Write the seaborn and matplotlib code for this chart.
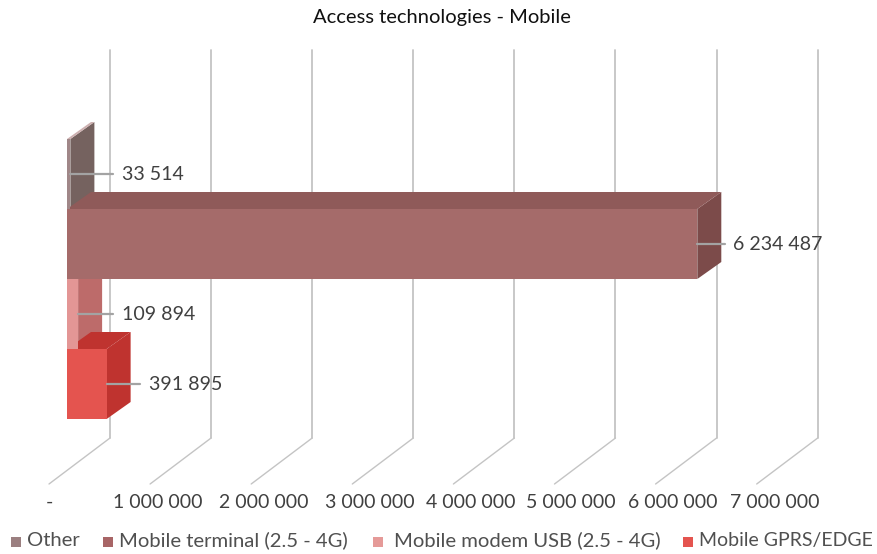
import matplotlib
matplotlib.use("Agg")
import matplotlib.pyplot as plt
from matplotlib.patches import Polygon, Rectangle
import pandas as pd
import seaborn as sns

# Subscriptions per access technology
categories = ["Other", "Mobile terminal (2.5 - 4G)", "Mobile modem USB (2.5 - 4G)", "Mobile GPRS/EDGE"]
values = [33514, 6234487, 109894, 391895]
value_labels = ["33 514", "6 234 487", "109 894", "391 895"]
tick_values = [0, 1000000, 2000000, 3000000, 4000000, 5000000, 6000000, 7000000]
tick_labels = ["-", "1 000 000", "2 000 000", "3 000 000", "4 000 000", "5 000 000", "6 000 000", "7 000 000"]

# Face colours of each extruded bar
front_colors = ["#a08788", "#a56b6a", "#e39695", "#e4544f"]
side_colors = ["#75625f", "#7c4b4a", "#bd6b6a", "#bf332f"]
top_colors = ["#cdb0b0", "#8f5a59", "#c97d7c", "#bf332f"]
legend_colors = ["#9b7f80", "#a86566", "#e59a98", "#e4544f"]

# Canvas layout, in pixels
W, H = 877, 554
PX_PER_UNIT = 101.1 / 1e6
X0_PX, Y0_PX, BAR_PX = 67, 139, 70
BAR_DX, BAR_DY = 24, -17
FLOOR_FRONT_DX, FLOOR_BACK_DX = -18, 43
FLOOR_FRONT_Y, FLOOR_BACK_Y, WALL_TOP_Y = 484, 438, 50
LABEL_CENTERS = [49, 158, 264, 370, 471, 571, 673, 775]
LEADER_END = [113, 725, 113, 140]
LABEL_LEFT = [122, 733, 122, 149]
LEGEND_SWATCH_X = [11, 103, 373, 683]
LEGEND_TEXT_X = [27, 119, 394, 699]
LEGEND_FONT = [14.6, 14.6, 14.6, 14.0]
LEGEND_Y, LEGEND_BASELINE, SWATCH_PX = 542, 546, 10
TEXT = "#404040"
FONT = ["Lato", "DejaVu Sans"]

sns.set_theme(style="white")
plt.rcParams["font.family"] = FONT

fig = plt.figure(figsize=(W / 100, H / 100), dpi=100)
ax = fig.add_axes([0, 0, 1, 1])

df = pd.DataFrame({"technology": categories, "subscribers": values})
sns.barplot(
    data=df, x="subscribers", y="technology", hue="technology", order=categories,
    hue_order=categories, palette=front_colors, saturation=1, width=1, dodge=False,
    legend=False, ax=ax, linewidth=0,
)


def dx(px):
    return px / PX_PER_UNIT


def dy(px):
    return px / BAR_PX


def xpx(px):
    return dx(px - X0_PX)


def ypx(px):
    return -0.5 + dy(px - Y0_PX)


ax.set_xlim(xpx(0), xpx(W))
ax.set_ylim(ypx(H), ypx(0))
ax.axis("off")

# Floor and back-wall gridlines
for v in tick_values:
    back_x = v + dx(FLOOR_BACK_DX)
    front_x = v + dx(FLOOR_FRONT_DX)
    ax.plot([front_x, back_x], [ypx(FLOOR_FRONT_Y), ypx(FLOOR_BACK_Y)], color="#c4c4c4", lw=1.0, zorder=1, solid_capstyle="round")
    ax.plot([back_x, back_x], [ypx(FLOOR_BACK_Y), ypx(WALL_TOP_Y)], color="#c4c4c4", lw=1.3, zorder=1)

# Extrude each bar: side and top faces stay under every front face
bars = [p for c in ax.containers for p in c]
for i, bar in enumerate(bars):
    x1 = bar.get_width()
    top, bottom = i - 0.5, i + 0.5
    ddx, ddy = dx(BAR_DX), dy(BAR_DY)
    ax.add_patch(Polygon([(x1, top), (x1 + ddx, top + ddy), (x1 + ddx, bottom + ddy), (x1, bottom)],
                         closed=True, fc=side_colors[i], ec="none", zorder=2 + i))
    ax.add_patch(Polygon([(0, top), (ddx, top + ddy), (x1 + ddx, top + ddy), (x1, top)],
                         closed=True, fc=top_colors[i], ec="none", zorder=2 + i))
    bar.set_zorder(8)

# Leader lines and value labels
for i, v in enumerate(values):
    y = i + dy(-0.5)
    ax.plot([v, xpx(LEADER_END[i])], [y, y], color="#a3a3a3", lw=1.6, zorder=10)
    ax.text(xpx(LABEL_LEFT[i]), y + dy(0.5), value_labels[i], ha="left", va="center", fontsize=14.1, color=TEXT, zorder=11)

# Axis tick labels
for lab, c in zip(tick_labels, LABEL_CENTERS):
    ax.text(xpx(c), ypx(502), lab, ha="center", va="center", fontsize=14, color=TEXT)

ax.text(xpx(442), ypx(18), "Access technologies - Mobile", ha="center", va="center", fontsize=14.5, color="#101010")

# Legend row with unevenly spaced entries
for name, color, sx, tx, fs in zip(categories, legend_colors, LEGEND_SWATCH_X, LEGEND_TEXT_X, LEGEND_FONT):
    ax.add_patch(Rectangle((xpx(sx), ypx(LEGEND_Y - SWATCH_PX / 2)), dx(SWATCH_PX), dy(SWATCH_PX), fc=color, ec="none"))
    ax.text(xpx(tx), ypx(LEGEND_BASELINE), name, ha="left", va="baseline", fontsize=fs, color="#505050")

fig.savefig("out.png", dpi=100)
